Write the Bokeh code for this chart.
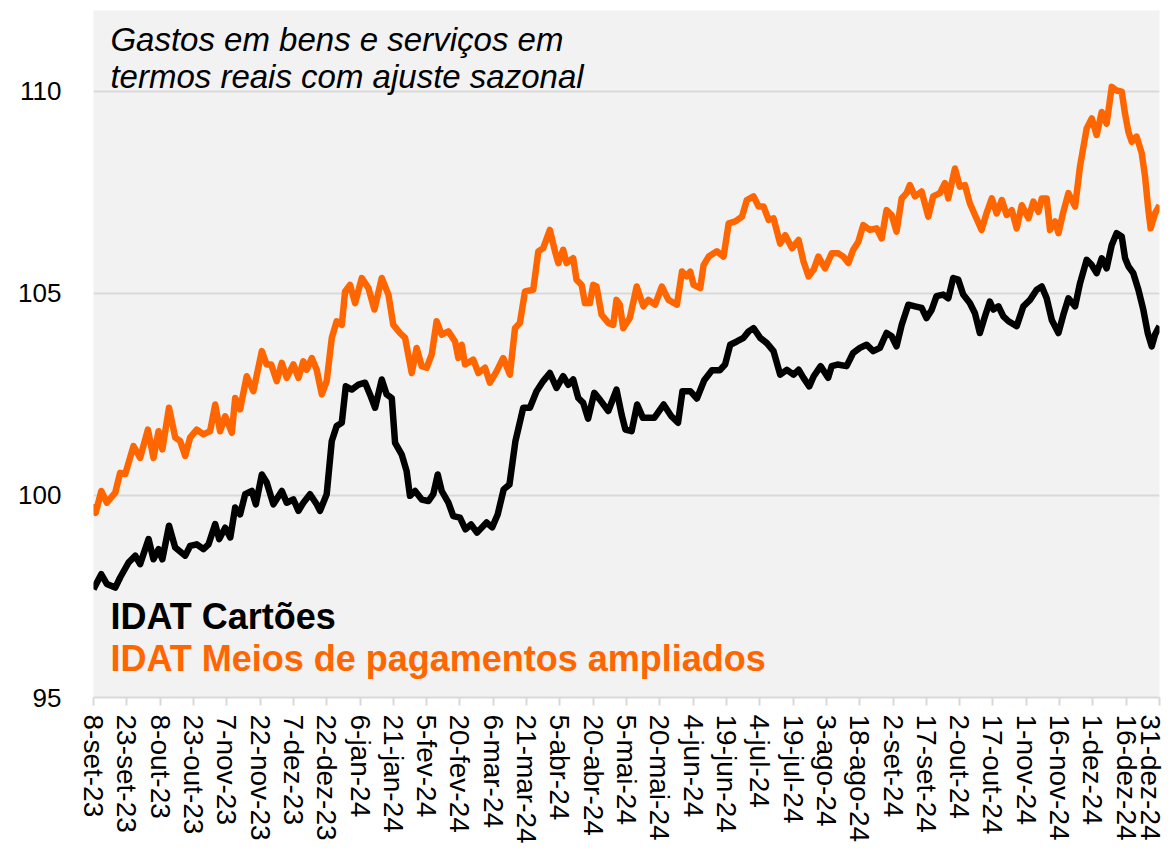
import math
from bokeh.plotting import figure
from bokeh.models import FixedTicker, Label, Range1d
from bokeh.embed import file_html
from bokeh.resources import INLINE

# x tick labels (every 15 days from 8-set-23)
tick_labels = ["8-set-23", "23-set-23", "8-out-23", "23-out-23", "7-nov-23", "22-nov-23",
               "7-dez-23", "22-dez-23", "6-jan-24", "21-jan-24", "5-fev-24", "20-fev-24",
               "6-mar-24", "21-mar-24", "5-abr-24", "20-abr-24", "5-mai-24", "20-mai-24",
               "4-jun-24", "19-jun-24", "4-jul-24", "19-jul-24", "3-ago-24", "18-ago-24",
               "2-set-24", "17-set-24", "2-out-24", "17-out-24", "1-nov-24", "16-nov-24",
               "1-dez-24", "16-dez-24", "31-dez-24"]
y_ticks = [95, 100, 105, 110]

# IDAT Cartões: day offset from 8-set-23, index value
cartoes_days = [0, 3.5, 6, 9.8, 12, 15.8, 18.8, 21, 24.8, 27, 29.3, 31, 34, 36.8, 41.3, 43.5,
                46.5, 49.5, 51.8, 54.8, 56.6, 59.3, 61.6, 63.8, 66, 68.3, 71.3, 73.1, 75.8, 78,
                81, 84.8, 87, 90, 92.3, 94.5, 97.5, 100.5, 102, 105, 107.3, 109.5, 111.8, 113.6,
                116.3, 119.3, 122.3, 124.5, 126.8, 129.8, 132, 134.3, 135.8, 138.8, 141, 142.5,
                144.8, 147.8, 150.8, 153, 155, 156.8, 159.8, 162, 165, 167.5, 170, 172.7, 177,
                179.5, 182, 184.7, 187.3, 190, 193.5, 196.5, 199.5, 202.5, 205.5, 208.5, 211.5,
                213.8, 216, 218.3, 220.5, 222.7, 225.5, 228, 231.8, 235.5, 237.8, 239.5, 242.3,
                244.8, 247.4, 252.5, 256.7, 260.2, 263.2, 265.2, 268.7, 271.7, 275, 278.5, 282,
                284.4, 286.7, 289.7, 292.7, 295, 297.2, 300.2, 303.2, 306.2, 309.2, 312.2, 315.2,
                317.5, 319.7, 322.3, 324.3, 327.4, 330.8, 332.4, 335, 339.1, 342.1, 345.1, 348.1,
                351.1, 354.1, 357.1, 359.4, 361.6, 363.9, 366.9, 369.9, 372.9, 375.1, 377.4,
                379.6, 382.6, 384.9, 387.1, 389.4, 391.6, 394.6, 396.9, 399.1, 401.4, 403.6,
                405.2, 407.5, 409.7, 412, 415.7, 418.7, 421.7, 424.7, 427, 429.2, 431.5, 434.5,
                436.7, 439, 442, 444.2, 447.2, 449.5, 451.7, 454, 456.2, 458.5, 460.7, 463,
                464.5, 466, 468.2, 470.5, 472.7, 474.7, 476.5, 478, 480]
cartoes_vals = [97.68, 98.05, 97.81, 97.72, 97.97, 98.34, 98.51, 98.30, 98.92, 98.42, 98.67,
                98.42, 99.25, 98.71, 98.51, 98.75, 98.79, 98.67, 98.79, 99.29, 98.92, 99.20,
                98.96, 99.70, 99.53, 100.03, 100.11, 99.78, 100.52, 100.32, 99.78, 100.11, 99.82,
                99.90, 99.62, 99.82, 100.03, 99.78, 99.62, 100.03, 101.35, 101.72, 101.80,
                102.70, 102.62, 102.74, 102.79, 102.50, 102.17, 102.87, 102.50, 102.41, 101.30,
                101.01, 100.60, 99.99, 100.11, 99.90, 99.86, 100.03, 100.52, 100.11, 99.82,
                99.49, 99.45, 99.16, 99.28, 99.08, 99.33, 99.21, 99.53, 100.15, 100.27, 101.35,
                102.17, 102.17, 102.58, 102.83, 103.03, 102.66, 102.95, 102.74, 102.87, 102.41,
                102.29, 101.90, 102.54, 102.37, 102.09, 102.62, 102.00, 101.63, 101.59, 102.25,
                101.92, 101.92, 102.25, 101.96, 101.80, 102.58, 102.58, 102.40, 102.85, 103.10,
                103.10, 103.24, 103.73, 103.81, 103.90, 104.06, 104.14, 103.90, 103.77, 103.57,
                102.99, 103.11, 102.99, 103.11, 102.91, 102.70, 102.95, 103.20, 102.91, 103.20,
                103.24, 103.20, 103.53, 103.65, 103.73, 103.57, 103.65, 104.02, 103.94, 103.69,
                104.22, 104.72, 104.68, 104.64, 104.39, 104.59, 104.93, 104.97, 104.88, 105.38,
                105.34, 104.97, 104.76, 104.51, 104.02, 104.43, 104.80, 104.60, 104.68, 104.43,
                104.31, 104.19, 104.68, 104.84, 105.09, 105.17, 104.88, 104.34, 104.02, 104.47,
                104.88, 104.68, 105.25, 105.83, 105.70, 105.50, 105.87, 105.62, 106.20, 106.49,
                106.41, 105.87, 105.67, 105.50, 105.09, 104.60, 104.02, 103.69, 103.98, 104.19]

# IDAT Meios de pagamentos ampliados
ampliados_days = [0, 1, 3.5, 6, 9.8, 12, 14.3, 18, 21, 24.5, 27, 29.3, 31, 34, 36.8, 39, 41.3,
                  43.5, 46.5, 49.5, 52.5, 54.8, 57, 59.3, 62.3, 63.8, 66, 69, 72, 75.8, 78, 80,
                  82.5, 84.8, 87, 90, 92.3, 94.5, 96, 98.3, 100.5, 102.8, 105, 107.3, 109.5,
                  111.8, 113.3, 115.5, 117.8, 120.8, 123.8, 126.5, 129.8, 132.8, 135, 138, 140.3,
                  143.3, 145.5, 147.8, 150, 152.3, 154.5, 156.8, 159.8, 162.8, 164.3, 165.8,
                  167.3, 171, 173.3, 176.3, 178.5, 181.5, 184.5, 187.5, 189.8, 192, 194.3, 198,
                  200.3, 202.5, 205.5, 207.8, 209.3, 211.5, 213, 216, 217.5, 219.8, 221.3, 223.5,
                  225, 226.5, 228.8, 231.8, 234, 235.5, 237, 238.5, 241.5, 244.6, 247.6, 249.9,
                  252.9, 255.9, 258.9, 262.7, 265, 267.2, 268.7, 270.2, 273.2, 274.7, 277, 280.7,
                  283.7, 286, 289, 292, 294.2, 297.2, 299.5, 301.7, 304, 306.2, 309.2, 311.5,
                  314.5, 317.5, 319.7, 322, 324.3, 326.4, 329.4, 332.4, 335.4, 337.6, 339.9,
                  342.1, 344.4, 346.6, 349.6, 352.6, 354.9, 357.1, 359.4, 361.6, 363.9, 366.1,
                  367.6, 369.9, 372.9, 375.9, 378.1, 381.1, 383.4, 384.9, 387.9, 390.1, 392.4,
                  394.6, 396.9, 399.9, 402.1, 404.5, 406.7, 409, 411.2, 413.5, 415.7, 418, 421,
                  423.2, 425.5, 427, 429.2, 430.7, 433, 434.5, 436.7, 439, 442, 444.2, 447.2,
                  449.5, 451.7, 454, 456.2, 458.5, 460.7, 463, 464.5, 466, 467.5, 469.7, 472,
                  473.5, 475, 476, 478, 480]
ampliados_vals = [99.79, 99.57, 100.11, 99.82, 100.07, 100.56, 100.53, 101.22, 100.93, 101.63,
                  100.93, 101.59, 101.14, 102.17, 101.43, 101.35, 100.98, 101.43, 101.63, 101.51,
                  101.59, 102.25, 101.59, 101.96, 101.55, 102.41, 102.13, 102.95, 102.58, 103.57,
                  103.24, 103.24, 102.83, 103.28, 102.91, 103.24, 102.91, 103.32, 103.11, 103.40,
                  103.11, 102.50, 102.83, 103.90, 104.31, 104.22, 105.05, 105.21, 104.76, 105.38,
                  105.13, 104.60, 105.38, 104.97, 104.22, 104.02, 103.90, 103.03, 103.65, 103.20,
                  103.16, 103.49, 104.31, 103.98, 104.06, 103.81, 103.40, 103.73, 103.24, 103.36,
                  103.03, 103.16, 102.79, 103.07, 103.40, 102.99, 104.14, 104.27, 105.05, 105.09,
                  106.04, 106.12, 106.57, 106.04, 105.75, 106.08, 105.75, 105.87, 105.34, 105.21,
                  104.76, 104.76, 105.21, 105.17, 104.47, 104.27, 104.22, 104.84, 104.72, 104.14,
                  104.39, 105.17, 104.68, 104.84, 104.72, 105.17, 104.84, 104.72, 105.54, 105.42,
                  105.54, 105.21, 105.13, 105.70, 105.91, 106.04, 105.91, 106.73, 106.78, 106.90,
                  107.31, 107.40, 107.15, 107.15, 106.82, 106.86, 106.23, 106.44, 106.12, 106.32,
                  105.79, 105.42, 105.59, 105.91, 105.62, 105.99, 105.99, 105.91, 105.75, 106.08,
                  106.28, 106.69, 106.57, 106.61, 106.36, 107.06, 106.94, 106.53, 107.35, 107.48,
                  107.68, 107.40, 107.52, 106.90, 107.40, 107.48, 107.73, 107.35, 108.09, 107.64,
                  107.68, 107.23, 106.94, 106.57, 106.98, 107.35, 106.98, 107.31, 106.94, 107.06,
                  106.61, 107.18, 106.86, 107.27, 107.02, 107.35, 107.35, 106.57, 106.78, 106.49,
                  107.02, 107.48, 107.15, 108.14, 109.08, 109.33, 108.92, 109.49, 109.20, 110.11,
                  110.02, 109.99, 109.44, 109.00, 108.75, 108.88, 108.47, 107.89, 107.06, 106.61,
                  106.98, 107.18]

FONT = "Liberation Sans"
ORANGE = "#FF6600"

tick_pos = [15 * i for i in range(len(tick_labels))]

p = figure(width=1165, height=848, x_range=Range1d(0, 480), y_range=Range1d(95, 112),
           output_backend="svg", toolbar_location=None,
           background_fill_color="#f2f2f2", border_fill_color="white",
           min_border_left=93, min_border_right=6, min_border_top=10, min_border_bottom=151)
p.outline_line_color = None
p.xgrid.visible = False
p.ygrid.grid_line_color = "#d9d9d9"
p.ygrid.grid_line_width = 2

p.yaxis.ticker = FixedTicker(ticks=y_ticks)
p.yaxis.axis_line_color = None
p.yaxis.major_tick_line_color = None
p.yaxis.minor_tick_line_color = None
p.yaxis.major_label_text_font = FONT
p.yaxis.major_label_text_font_size = "26px"
p.yaxis.major_label_text_color = "black"
p.yaxis.major_label_standoff = 26

p.xaxis.ticker = FixedTicker(ticks=tick_pos)
p.xaxis.major_label_overrides = {pos: lab for pos, lab in zip(tick_pos, tick_labels)}
p.xaxis.major_label_orientation = -math.pi / 2
p.xaxis.axis_line_color = "#d9d9d9"
p.xaxis.axis_line_width = 2
p.xaxis.major_tick_line_color = "#d9d9d9"
p.xaxis.major_tick_line_width = 2
p.xaxis.major_tick_out = 8
p.xaxis.major_tick_in = 0
p.xaxis.minor_tick_line_color = None
p.xaxis.major_label_text_font = FONT
p.xaxis.major_label_text_font_size = "28px"
p.xaxis.major_label_text_color = "black"
p.xaxis.major_label_standoff = 9

p.line(ampliados_days, ampliados_vals, line_color=ORANGE, line_width=6.5, line_join="round")
p.line(cartoes_days, cartoes_vals, line_color="black", line_width=6.5, line_join="round")

for txt, yy in [("Gastos em bens e serviços em", 111.29), ("termos reais com ajuste sazonal", 110.37)]:
    p.add_layout(Label(x=7.6, y=yy, text=txt, text_font=FONT, text_font_size="33px",
                       text_font_style="italic", text_color="black", text_baseline="alphabetic"))

p.add_layout(Label(x=7.6, y=97.0, text="IDAT Cartões", text_font=FONT, text_font_size="36px",
                   text_font_style="bold", text_color="black", text_baseline="alphabetic"))
p.add_layout(Label(x=7.6, y=95.97, text="IDAT Meios de pagamentos ampliados", text_font=FONT,
                   text_font_size="36px", text_font_style="bold", text_color=ORANGE,
                   text_baseline="alphabetic"))

open("out.html", "w").write(file_html(p, INLINE))
